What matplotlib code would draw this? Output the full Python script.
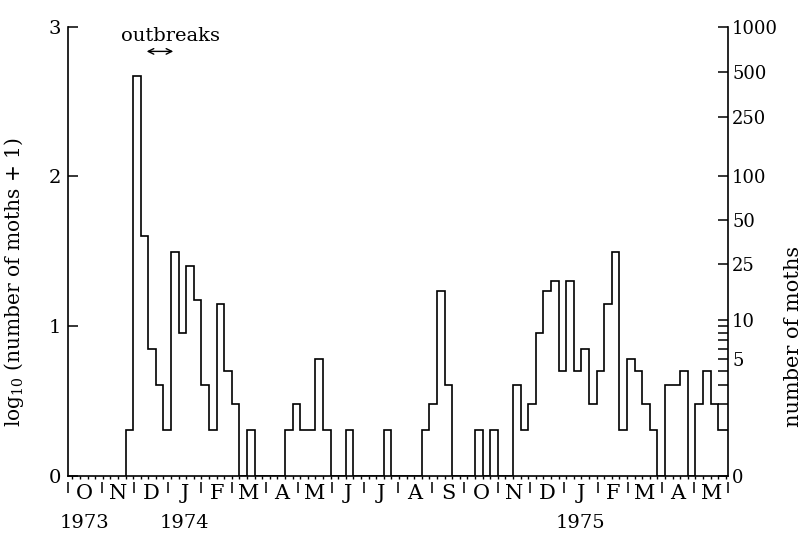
import numpy as np
import matplotlib.pyplot as plt

plt.rcParams['font.family'] = 'DejaVu Serif'
plt.rcParams['mathtext.fontset'] = 'dejavuserif'

# weekly moth catches, first week starting 23 Nov 1973 (day 53 after 1 Oct 1973)
counts = [1, 469, 39, 6, 3, 1, 30, 8, 24, 14,
          3, 1, 13, 4, 2, 0, 1, 0, 0, 0,
          0, 1, 2, 1, 1, 5, 1, 0, 0, 1,
          0, 0, 0, 0, 1, 0, 0, 0, 0, 1,
          2, 16, 3, 0, 0, 0, 1, 0, 1, 0,
          0, 3, 1, 2, 8, 16, 19, 4, 19, 4,
          6, 2, 4, 13, 30, 1, 5, 4, 2, 1,
          0, 3, 3, 4, 0, 2, 4, 2, 1, 1]
first_week_day = 53

# month boundaries, days after 1 Oct 1973
month_starts = [0, 31, 61, 92, 123, 151, 182, 212, 243, 273, 304, 335,
                365, 396, 426, 457, 488, 516, 547, 577, 608]
month_labels = ['O', 'N', 'D', 'J', 'F', 'M', 'A', 'M', 'J', 'J', 'A', 'S',
                'O', 'N', 'D', 'J', 'F', 'M', 'A', 'M']
year_labels = {0: '1973', 3: '1974', 15: '1975'}

right_ticks = [0, 5, 10, 25, 50, 100, 250, 500, 1000]
right_minor = [2, 3, 4, 6, 7, 8, 9]

logc = np.log10(np.array(counts) + 1)
edges = first_week_day + 7 * np.arange(len(counts) + 1)

fig = plt.figure(figsize=(8.11, 5.34), dpi=100)
ax = fig.add_axes([0.0838, 0.1095, 0.8139, 0.8405])
ax.stairs(logc, edges, baseline=0, color='black', lw=1.2)
ax.set_xlim(0, 608)
ax.set_ylim(0, 3)

ax.spines['top'].set_visible(False)
for s in ['left', 'right', 'bottom']:
    ax.spines[s].set_linewidth(1.2)

ax.set_yticks([0, 1, 2, 3])
ax.tick_params(axis='y', direction='in', length=7, width=1.1, labelsize=14, pad=5)

# weekly small ticks under the time axis
ax.set_xticks(np.arange(first_week_day % 7, 609, 7))
ax.tick_params(axis='x', direction='out', length=2.5, width=1, labelbottom=False)

xt = ax.get_xaxis_transform()
ax.vlines(month_starts, -0.014, -0.04, transform=xt, color='black', lw=1.1, clip_on=False)
for i, lab in enumerate(month_labels):
    mid = (month_starts[i] + month_starts[i + 1]) / 2
    ax.text(mid, -0.04, lab, transform=xt, ha='center', va='center', fontsize=15)
for i, yr in year_labels.items():
    mid = (month_starts[i] + month_starts[i + 1]) / 2
    ax.text(mid, -0.106, yr, transform=xt, ha='center', va='center', fontsize=14)

ax.set_ylabel(r'log$_{10}$ (number of moths + 1)', fontsize=14.5)
ax.yaxis.set_label_coords(-0.063, 0.43)

ax2 = ax.twinx()
ax2.set_ylim(0, 3)
ax2.set_yticks(np.log10(np.array(right_ticks) + 1), [str(t) for t in right_ticks])
ax2.set_yticks(np.log10(np.array(right_minor) + 1), minor=True)
ax2.tick_params(axis='y', which='major', direction='in', length=7, width=1.1,
                labelsize=13, pad=3)
ax2.tick_params(axis='y', which='minor', direction='in', length=7, width=1.1)
for s in ax2.spines.values():
    s.set_visible(False)
ax2.set_ylabel('number of moths', fontsize=15)
ax2.yaxis.set_label_coords(1.085, 0.31)

ax.text(94, 2.936, 'outbreaks', ha='center', va='center', fontsize=14)
ax.annotate('', xy=(97, 2.835), xytext=(72.5, 2.835),
            arrowprops=dict(arrowstyle='<->', lw=1, color='black', shrinkA=0, shrinkB=0))

fig.savefig('out.png', dpi=100)
